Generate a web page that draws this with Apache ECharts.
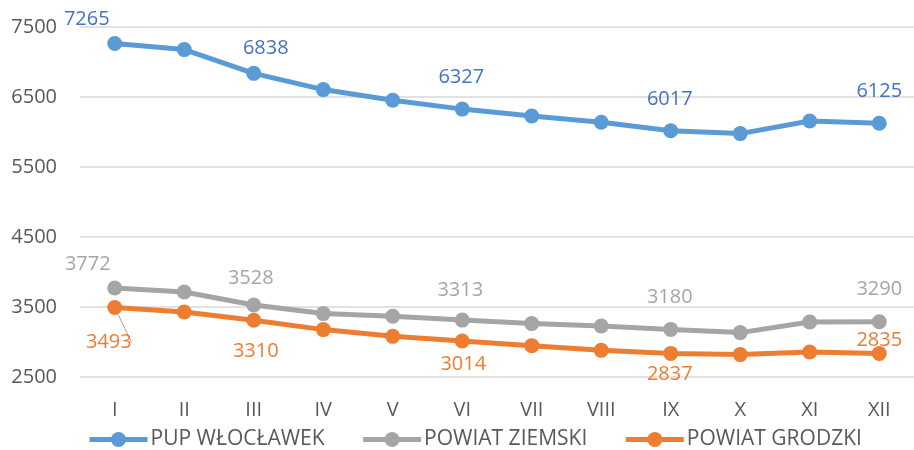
<!DOCTYPE html>
<html><head><meta charset="utf-8">
<script src="https://cdn.jsdelivr.net/npm/echarts@6/dist/echarts.min.js"></script>
<style>html,body{margin:0;padding:0;background:#fff}#c{width:914px;height:450px}</style>
</head><body><div id="c"></div>
<script>
const categories = ['I','II','III','IV','V','VI','VII','VIII','IX','X','XI','XII'];
const pupWloclawek = [7265,7177,6838,6606,6453,6327,6229,6139,6017,5977,6157,6125];
const powiatZiemski = [3772,3714,3528,3406,3367,3313,3263,3229,3180,3134,3286,3290];
const powiatGrodzki = [3493,3429,3310,3177,3081,3014,2948,2881,2837,2820,2857,2835];
const seriesNames = ['PUP WŁOCŁAWEK','POWIAT ZIEMSKI','POWIAT GRODZKI'];
const yTicks = [2500,3500,4500,5500,6500,7500];

const labelIdx = [0,2,5,8,11];
const FONT = '"Open Sans", sans-serif';
const offsets = [
  {0:[-28,-24],2:[12,-25],5:[-1,-32],8:[-1,-32],11:[0,-32]},
  {0:[-27,-24],2:[-3,-27],5:[-2,-30],8:[-1,-32],11:[0,-32]},
  {0:[-6,35],2:[2,31],5:[1,23],8:[-1,21],11:[0,-13]}
];
const lineColors = ['#5B9BD5','#A5A5A5','#ED7D31'];
const labelColors = ['#4472C4','#A5A5A5','#ED7D31'];

function build(vals, si){
  return vals.map((v,i)=>{
    if(labelIdx.indexOf(i)<0) return {value:v, label:{show:false}};
    const item = {value:v, label:{show:true, position:'inside', offset:offsets[si][i],
      color:labelColors[si], fontSize:20, fontFamily:FONT}};
    if(si===2 && i===0){
      item.labelLine = {show:true, lineStyle:{color:'#A5A5A5', width:1}};
    }
    return item;
  });
}
const all=[pupWloclawek,powiatZiemski,powiatGrodzki];
const chart = echarts.init(document.getElementById('c'), null, {renderer:'canvas'});
chart.setOption({
  animation:false,
  backgroundColor:'#fff',
  grid:{left:80, top:27, width:839, bottom:73, containLabel:false},
  legend:{
    left:82, top:424, itemWidth:58, itemHeight:19, itemGap:36,
    lineStyle:{width:5},
    textStyle:{color:'#595959', fontSize:21, fontFamily:FONT, padding:[0,0,0,-2]},
    data:seriesNames
  },
  xAxis:{type:'category', data:categories, boundaryGap:true,
    axisLine:{show:false}, axisTick:{show:false},
    axisLabel:{color:'#595959', fontSize:20, fontFamily:FONT, margin:23}},
  yAxis:{type:'value', min:yTicks[0], max:yTicks[yTicks.length-1], interval:1000,
    axisLine:{show:false}, axisTick:{show:false},
    axisLabel:{color:'#595959', fontSize:20, fontFamily:FONT, margin:23, formatter:v=>String(v)},
    splitLine:{lineStyle:{color:'#D9D9D9', width:1.5}}},
  series: all.map((vals,si)=>({
    name:seriesNames[si], type:'line', data:build(vals,si),
    symbol:'circle', symbolSize:15,
    lineStyle:{color:lineColors[si], width:5},
    itemStyle:{color:lineColors[si]},
    emphasis:{disabled:true}
  }))
});
</script></body></html>
